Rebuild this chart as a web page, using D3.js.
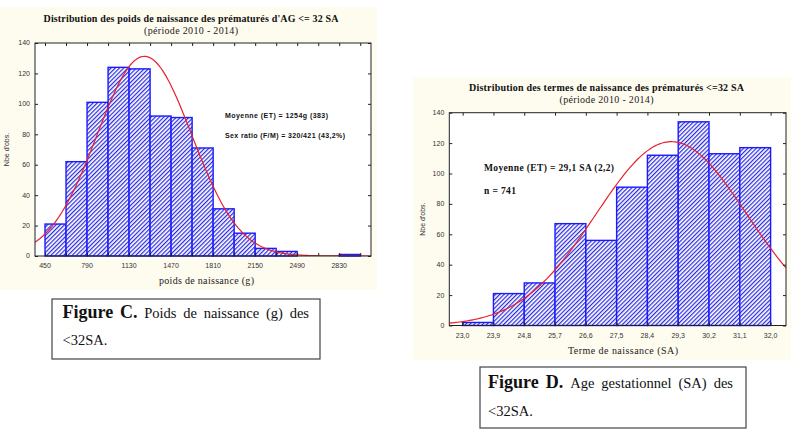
<!DOCTYPE html>
<html><head><meta charset="utf-8">
<script src="https://cdn.jsdelivr.net/npm/d3@7"></script>
<style>
html,body{margin:0;padding:0;background:#fff;}
svg{display:block;}
</style></head>
<body>
<svg id="chart" width="793" height="434"></svg>
<script>
// ---------- DATA ----------
// Figure C : poids de naissance (g)
const poidsBinStarts = [450, 620, 790, 960, 1130, 1300, 1470, 1640, 1810, 1980, 2150, 2320, 2490, 2660, 2830];
const poidsCounts    = [21, 62, 101, 124, 123, 92, 91, 71, 31, 15, 5, 3, 0, 0, 1];
const poidsBinWidth  = 170;
const poidsTicks     = [450, 790, 1130, 1470, 1810, 2150, 2490, 2830];
const poidsMean = 1254, poidsSD = 383, poidsN = 741;

// Figure D : terme de naissance (SA)
const termeBinStarts = [23.0, 23.9, 24.8, 25.7, 26.6, 27.5, 28.4, 29.3, 30.2, 31.1];
const termeCounts    = [2, 21, 28, 67, 56, 91, 112, 134, 113, 117];
const termeBinWidth  = 0.9;
const termeTicks     = [23.0, 23.9, 24.8, 25.7, 26.6, 27.5, 28.4, 29.3, 30.2, 31.1, 32.0];
const termeMean = 29.1, termeSD = 2.2, termeN = 741;

const yTicks = [0, 20, 40, 60, 80, 100, 120, 140];

// ---------- DRAW ----------
const svg = d3.select("#chart");
const defs = svg.append("defs");
const hatch = defs.append("pattern").attr("id", "hatch")
  .attr("patternUnits", "userSpaceOnUse").attr("width", 3).attr("height", 3)
  .attr("patternTransform", "rotate(45)");
hatch.append("rect").attr("width", 3).attr("height", 3).attr("fill", "#fff");
hatch.append("line").attr("x1", 0.6).attr("y1", 0).attr("x2", 0.6).attr("y2", 3)
  .attr("stroke", "#2a2ae0").attr("stroke-width", 1.25);

const SERIF = "'Liberation Serif','Times New Roman',serif";
const SANS = "'Liberation Sans',Arial,sans-serif";

function drawChart(o) {
  const g = svg.append("g");
  g.append("rect").attr("x", o.panel[0]).attr("y", o.panel[1])
    .attr("width", o.panel[2]).attr("height", o.panel[3]).attr("fill", "#fefbef");

  const x = d3.scaleLinear().domain(o.xDomain).range([o.left, o.right]);
  const y = d3.scaleLinear().domain([0, 140]).range([o.bottom, o.top]);

  g.append("rect").attr("x", o.left).attr("y", o.top)
    .attr("width", o.right - o.left).attr("height", o.bottom - o.top).attr("fill", "#fff");

  const clipId = "clip" + o.id;
  defs.append("clipPath").attr("id", clipId).append("rect")
    .attr("x", o.left).attr("y", o.top).attr("width", o.right - o.left).attr("height", o.bottom - o.top);

  // bars
  g.append("g").selectAll("rect").data(o.starts.map((s, i) => ({s, c: o.counts[i]})).filter(d => d.c > 0))
    .join("rect")
    .attr("x", d => x(d.s)).attr("width", d => x(d.s + o.bw) - x(d.s))
    .attr("y", d => y(d.c)).attr("height", d => y(0) - y(d.c))
    .attr("fill", "url(#hatch)").attr("stroke", "#1a1aff").attr("stroke-width", 1.4);

  // fitted normal curve (from stated mean / SD)
  const [x0, x1] = o.xDomain;
  const pts = d3.range(0, 201).map(i => {
    const v = x0 + (x1 - x0) * i / 200;
    const z = (v - o.mean) / o.sd;
    return [v, o.n * o.bw / (o.sd * Math.sqrt(2 * Math.PI)) * Math.exp(-0.5 * z * z)];
  });
  g.append("path").datum(pts).attr("clip-path", `url(#${clipId})`)
    .attr("d", d3.line().x(d => x(d[0])).y(d => y(d[1])))
    .attr("fill", "none").attr("stroke", "#e8202a").attr("stroke-width", 1.2);

  // frame + inward ticks on all sides
  const tk = 3;
  g.append("g").attr("transform", `translate(0,${o.bottom})`)
    .call(d3.axisBottom(x).tickValues(o.minorTicks).tickSize(-tk).tickFormat(""))
    .call(a => a.select(".domain").remove());
  g.append("g").attr("transform", `translate(0,${o.top})`)
    .call(d3.axisTop(x).tickValues(o.minorTicks).tickSize(-tk).tickFormat(""))
    .call(a => a.select(".domain").remove());
  g.append("g").attr("transform", `translate(${o.left},0)`)
    .call(d3.axisLeft(y).tickValues(yTicks).tickSize(-tk).tickFormat(""))
    .call(a => a.select(".domain").remove());
  g.append("g").attr("transform", `translate(${o.right},0)`)
    .call(d3.axisRight(y).tickValues(yTicks).tickSize(-tk).tickFormat(""))
    .call(a => a.select(".domain").remove());
  g.selectAll(".tick line").attr("stroke", "#222");
  g.append("rect").attr("x", o.left).attr("y", o.top)
    .attr("width", o.right - o.left).attr("height", o.bottom - o.top)
    .attr("fill", "none").attr("stroke", "#222").attr("stroke-width", 1);

  // tick labels
  g.append("g").selectAll("text").data(yTicks).join("text")
    .attr("x", o.left - 5).attr("y", d => y(d)).attr("dy", "0.35em")
    .attr("text-anchor", "end").attr("font-family", SANS).attr("font-size", 7)
    .attr("fill", "#333").text(d => d);
  g.append("g").selectAll("text").data(o.labelTicks).join("text")
    .attr("x", d => x(d)).attr("y", o.bottom + 12)
    .attr("text-anchor", "middle").attr("font-family", SANS).attr("font-size", 7)
    .attr("fill", "#333").text(o.fmt);

  // y axis label
  g.append("text").attr("transform", `translate(${o.yLabelX},${(o.top + o.bottom) / 2}) rotate(-90)`)
    .attr("text-anchor", "middle").attr("font-family", SANS).attr("font-size", 7)
    .attr("fill", "#333").text("Nbe d'obs.");

  // titles
  g.append("text").attr("x", o.titleX).attr("y", o.titleY).attr("text-anchor", "middle")
    .attr("font-family", SERIF).attr("font-weight", "bold").attr("font-size", 10)
    .attr("textLength", o.titleLen).attr("lengthAdjust", "spacing").attr("fill", "#111").text(o.title);
  g.append("text").attr("x", o.titleX).attr("y", o.titleY + 12).attr("text-anchor", "middle")
    .attr("font-family", SERIF).attr("font-size", 10)
    .attr("textLength", 94).attr("lengthAdjust", "spacing").attr("fill", "#222").text("(période 2010 - 2014)");
  g.append("text").attr("x", o.xTitleX).attr("y", o.bottom + 28).attr("text-anchor", "middle")
    .attr("font-family", SERIF).attr("font-size", 10)
    .attr("textLength", o.xTitleLen).attr("lengthAdjust", "spacing").attr("fill", "#222").text(o.xTitle);

  // annotations
  o.notes.forEach(n => {
    g.append("text").attr("x", n.x).attr("y", n.y)
      .attr("font-family", n.font).attr("font-weight", "bold").attr("font-size", n.size)
      .attr("textLength", n.len).attr("lengthAdjust", "spacing").attr("fill", "#111").text(n.t);
  });
}

const commaFmt = d => d3.format(".1f")(d).replace(".", ",");

drawChart({
  id: "C", panel: [0, 7, 377, 283],
  left: 35, right: 371, top: 43, bottom: 256,
  xDomain: [369, 3087],
  starts: poidsBinStarts, counts: poidsCounts, bw: poidsBinWidth,
  mean: poidsMean, sd: poidsSD, n: poidsN,
  minorTicks: d3.range(0, 16).map(i => poidsBinStarts[0] + i * poidsBinWidth),
  labelTicks: poidsTicks, fmt: d => d,
  yLabelX: 9,
  title: "Distribution des poids de naissance des prématurés d'AG <= 32 SA",
  titleX: 191, titleY: 22, titleLen: 295,
  xTitle: "poids de naissance (g)", xTitleX: 206.5, xTitleLen: 95,
  notes: [
    {t: "Moyenne (ET) = 1254g (383)", x: 225, y: 118, font: SANS, size: 7, len: 103},
    {t: "Sex ratio (F/M) = 320/421 (43,2%)", x: 225, y: 138, font: SANS, size: 7, len: 120}
  ]
});

drawChart({
  id: "D", panel: [413, 77, 378, 283],
  left: 449.3, right: 786, top: 112.7, bottom: 325.5,
  xDomain: [22.61, 32.45],
  starts: termeBinStarts, counts: termeCounts, bw: termeBinWidth,
  mean: termeMean, sd: termeSD, n: termeN,
  minorTicks: termeTicks,
  labelTicks: termeTicks, fmt: commaFmt,
  yLabelX: 425,
  title: "Distribution des termes de naissance des prématurés <=32 SA",
  titleX: 606.5, titleY: 91, titleLen: 275,
  xTitle: "Terme de naissance (SA)", xTitleX: 623, xTitleLen: 110,
  notes: [
    {t: "Moyenne (ET) = 29,1 SA (2,2)", x: 484, y: 171, font: SERIF, size: 9.5, len: 130},
    {t: "n = 741", x: 484, y: 194, font: SERIF, size: 9.5, len: 32}
  ]
});

// ---------- CAPTIONS ----------
function caption(box, x0, x1, y1, y2, head, words, last) {
  svg.append("rect").attr("x", box[0]).attr("y", box[1]).attr("width", box[2]).attr("height", box[3])
    .attr("fill", "#fff").attr("stroke", "#444").attr("stroke-width", 1.2);
  const items = head.map(t => ({t, bold: true})).concat(words.map(t => ({t, bold: false})));
  const nodes = items.map(it => svg.append("text").attr("y", y1)
    .attr("font-family", SERIF).attr("font-weight", it.bold ? "bold" : "normal")
    .attr("font-size", it.bold ? 18 : 14.5).attr("fill", "#111").text(it.t));
  const widths = nodes.map(n => n.node().getComputedTextLength());
  const gap = (x1 - x0 - d3.sum(widths)) / (nodes.length - 1);
  let cx = x0;
  nodes.forEach((n, i) => { n.attr("x", cx); cx += widths[i] + gap; });
  svg.append("text").attr("x", x0).attr("y", y2).attr("font-family", SERIF)
    .attr("font-size", 14.5).attr("fill", "#111").text(last);
}
caption([52, 299, 268, 60], 62.5, 309, 318, 345, ["Figure", "C."], ["Poids", "de", "naissance", "(g)", "des"], "<32SA.");
caption([480, 367, 266, 61], 488, 733, 388, 416, ["Figure", "D."], ["Age", "gestationnel", "(SA)", "des"], "<32SA.");
</script>
</body></html>
